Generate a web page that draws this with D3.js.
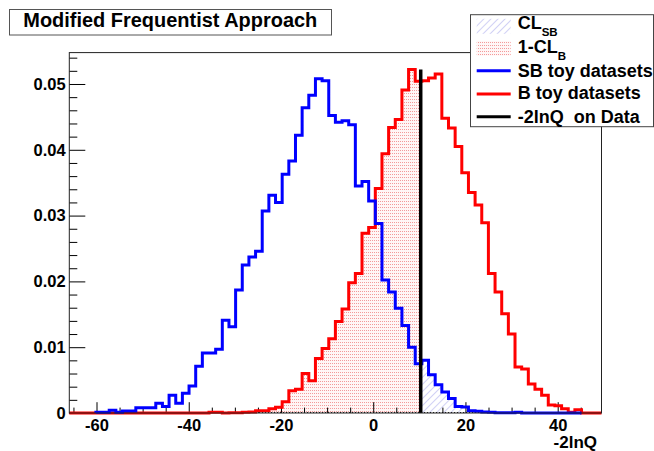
<!DOCTYPE html>
<html><head><meta charset="utf-8">
<script src="https://cdn.jsdelivr.net/npm/d3@7"></script>
<style>
body{margin:0;background:#fff}
svg{display:block}
text{font-family:"Liberation Sans",Arial,Helvetica,sans-serif;font-weight:bold;fill:#000}
</style>
</head><body>
<svg id="c" width="654" height="451"></svg>
<script>
// ---------------- data ----------------
const titleText = "Modified Frequentist Approach";
const xTitle = "-2lnQ";
const binRange = [-65.9, 49.5];
const nBins = 80;
const yMax = 0.05477;
const xMajorTicks = [-60, -40, -20, 0, 20, 40];
const xTickLabels = ["-60", "-40", "-20", "0", "20", "40"];
const yMajorTicks = [0, 0.01, 0.02, 0.03, 0.04, 0.05];
const yTickLabels = ["0", "0.01", "0.02", "0.03", "0.04", "0.05"];
const dataValue = 10.3;      // -2lnQ on data
const dataLineTop = 0.0522;

// B toy datasets (red)
const bValues = [
  0,0,0,0,0,0,0,0,0,0,
  0,0,0,0,0,0,0,0,0,0,
  0,0.0001,0.0001,0,0.00005,0.00005,0.0001,0.00015,0.00035,0.00035,
  0.00066,0.00086,0.0017,0.0034,0.0036,0.0060,0.0049,0.0083,0.0098,0.0113,
  0.0139,0.0158,0.0198,0.0212,0.0273,0.0282,0.0341,0.0394,0.0434,0.0446,
  0.0491,0.0522,0.0504,0.0505,0.0509,0.0515,0.0448,0.0433,0.0405,0.0365,
  0.0335,0.0316,0.0289,0.0212,0.0184,0.0151,0.0120,0.0070,0.0067,0.0044,
  0.0036,0.0027,0.0012,0.0011,0.00066,0.0001,0.0005,0,0,0
];
// SB toy datasets (blue)
const sbValues = [
  null,null,null,null,0.0001,0.0001,0.0004,0.0001,0.0003,0.0003,
  0.0008,0.0008,0.0008,0.0015,0.0010,0.0027,0.0015,0.0030,0.0041,0.0071,
  0.0091,0.0091,0.0097,0.0141,0.0131,0.0187,0.0225,0.0237,0.0246,0.0307,
  0.0331,0.0320,0.0363,0.0383,0.0422,0.0464,0.0483,0.0508,0.0505,0.0452,
  0.0442,0.0444,0.0438,0.0345,0.0352,0.0322,0.0288,0.0202,0.0184,0.0159,
  0.0133,0.0100,0.0075,0.0080,0.0058,0.0043,0.0032,0.0022,0.0010,0.0009,
  0.00035,0.00025,0.00015,0.0001,0.00005,0.00005,0.00005,0.0001,0,0,
  0,0,0,0,0,0,0,null,null,null
];
const legendMain = ["CL", "1-CL", "SB toy datasets", "B toy datasets", "-2lnQ  on Data"];
const legendSub  = ["SB", "B", "", "", ""];
const legendKind = ["hatch", "dots", "blue", "red", "black"];

// ---------------- drawing ----------------
const svg = d3.select("#c");
const F = {l: 69.3, r: 601.5, t: 52.6, b: 413};
const x = d3.scaleLinear().domain(binRange).range([F.l, F.r]);
const y = d3.scaleLinear().domain([0, yMax]).range([F.b, F.t]);
const bw = (binRange[1] - binRange[0]) / nBins;

svg.append("rect").attr("width", 654).attr("height", 451).attr("fill", "#fff");

const defs = svg.append("defs");
const hatch = defs.append("pattern").attr("id", "hatch").attr("patternUnits", "userSpaceOnUse")
  .attr("width", 5).attr("height", 5).attr("patternTransform", "rotate(45)");
hatch.append("line").attr("x1", 0).attr("y1", 0).attr("x2", 0).attr("y2", 5)
  .attr("stroke", "#a4a4ec").attr("stroke-width", 1);
const dots = defs.append("pattern").attr("id", "dots").attr("patternUnits", "userSpaceOnUse")
  .attr("width", 2).attr("height", 3);
dots.append("rect").attr("width", 2).attr("height", 3).attr("fill", "#fff6f6");
dots.append("rect").attr("width", 1).attr("height", 1).attr("fill", "#f29a9a");

defs.append("clipPath").attr("id", "clipL").append("rect")
  .attr("x", F.l).attr("y", F.t).attr("width", x(dataValue) - F.l).attr("height", F.b - F.t);
defs.append("clipPath").attr("id", "clipR").append("rect")
  .attr("x", x(dataValue)).attr("y", F.t).attr("width", F.r - x(dataValue)).attr("height", F.b - F.t);

function stepPoints(vals) {
  const runs = []; let cur = null;
  vals.forEach((v, i) => {
    const lo = binRange[0] + i * bw, hi = lo + bw;
    if (v === null) { cur = null; return; }
    if (!cur) { cur = [[lo, 0]]; runs.push(cur); }
    cur.push([lo, v], [hi, v]);
  });
  runs.forEach(r => r.push([r[r.length - 1][0], 0]));
  return runs;
}
const line = d3.line().x(d => x(d[0])).y(d => y(d[1]));
const area = d3.area().x(d => x(d[0])).y0(y(0)).y1(d => y(d[1]));

// fills
stepPoints(bValues).forEach(r => svg.append("path").attr("d", area(r))
  .attr("fill", "url(#dots)").attr("clip-path", "url(#clipL)"));
stepPoints(sbValues).forEach(r => svg.append("path").attr("d", area(r))
  .attr("fill", "url(#hatch)").attr("clip-path", "url(#clipR)"));
// dotted baseline of fill regions
svg.append("line").attr("x1", x(-28)).attr("x2", x(27)).attr("y1", y(0) - 0.5).attr("y2", y(0) - 0.5)
  .attr("stroke", "#000").attr("stroke-width", 1).attr("stroke-dasharray", "1,2");

// axes
const gx = svg.append("g").attr("transform", `translate(0,${F.b})`);
gx.call(d3.axisBottom(x).tickValues(xMajorTicks).tickSize(-10.8).tickPadding(6)
  .tickFormat((d, i) => xTickLabels[i]));
const gxm = svg.append("g").attr("transform", `translate(0,${F.b})`);
gxm.call(d3.axisBottom(x).tickValues(d3.range(-65, 46, 5).filter(v => v % 20 !== 0))
  .tickSize(-5.4).tickFormat(""));
const gy = svg.append("g").attr("transform", `translate(${F.l},0)`);
gy.call(d3.axisLeft(y).tickValues(yMajorTicks).tickSize(-16).tickPadding(3.6)
  .tickFormat((d, i) => yTickLabels[i]));
const gym = svg.append("g").attr("transform", `translate(${F.l},0)`);
gym.call(d3.axisLeft(y).tickValues(d3.range(0.002, 0.0545, 0.002).filter((v, i) => (i + 1) % 5 !== 0))
  .tickSize(-8).tickFormat(""));
svg.selectAll(".domain").remove();
svg.selectAll(".tick line").attr("stroke", "#000").attr("stroke-width", 1);
svg.selectAll(".tick text").style("font-size", "16.5px").style("font-family", '"Liberation Sans",Arial,sans-serif')
  .style("font-weight", "bold").attr("fill", "#000");

// histogram lines
stepPoints(bValues).forEach(r => svg.append("path").attr("d", line(r))
  .attr("fill", "none").attr("stroke", "#ff0000").attr("stroke-width", 3));
stepPoints(sbValues).forEach(r => svg.append("path").attr("d", line(r))
  .attr("fill", "none").attr("stroke", "#0000ff").attr("stroke-width", 3));
// data line
svg.append("line").attr("x1", x(dataValue)).attr("x2", x(dataValue))
  .attr("y1", y(0)).attr("y2", y(dataLineTop)).attr("stroke", "#000").attr("stroke-width", 3.5);

// frame
svg.append("rect").attr("x", F.l).attr("y", F.t).attr("width", F.r - F.l).attr("height", F.b - F.t)
  .attr("fill", "none").attr("stroke", "#222").attr("stroke-width", 1);

// x title
svg.append("text").attr("x", 597).attr("y", 448).attr("text-anchor", "end")
  .style("font-size", "17px").text(xTitle);

// title box
svg.append("rect").attr("x", 9.5).attr("y", 9.5).attr("width", 322).attr("height", 25.5)
  .attr("fill", "#fff").attr("stroke", "#555").attr("stroke-width", 1);
svg.append("text").attr("x", 23.3).attr("y", 27).style("font-size", "19.5px")
  .attr("textLength", 294).attr("lengthAdjust", "spacingAndGlyphs").text(titleText);

// legend
const L = {x: 470.5, y: 14.7, w: 183, h: 112};
svg.append("rect").attr("x", L.x).attr("y", L.y).attr("width", L.w).attr("height", L.h)
  .attr("fill", "#fff").attr("stroke", "#444").attr("stroke-width", 1);
const symY = [26.3, 48.3, 70.7, 94, 116.7];
const txtY = [29.3, 53.3, 77, 98.5, 122.6];
const symX0 = 476.7, symX1 = 510.7, txtX = 517.7;
legendKind.forEach((k, i) => {
  const cy = symY[i];
  if (k === "hatch" || k === "dots") {
    svg.append("rect").attr("x", symX0).attr("y", cy - 7.5).attr("width", symX1 - symX0).attr("height", 15)
      .attr("fill", k === "hatch" ? "url(#hatch)" : "url(#dots)");
  } else {
    const col = k === "blue" ? "#0000ff" : k === "red" ? "#ff0000" : "#000";
    svg.append("line").attr("x1", symX0).attr("x2", symX1).attr("y1", cy).attr("y2", cy)
      .attr("stroke", col).attr("stroke-width", 3);
  }
  const t = svg.append("text").attr("x", txtX).attr("y", txtY[i]).style("font-size", "18px")
    .style("white-space", "pre").attr("xml:space", "preserve");
  t.append("tspan").text(legendMain[i]);
  if (legendSub[i]) t.append("tspan").attr("dy", 6.5).style("font-size", "11.5px").text(legendSub[i]);
});
</script>
</body></html>
